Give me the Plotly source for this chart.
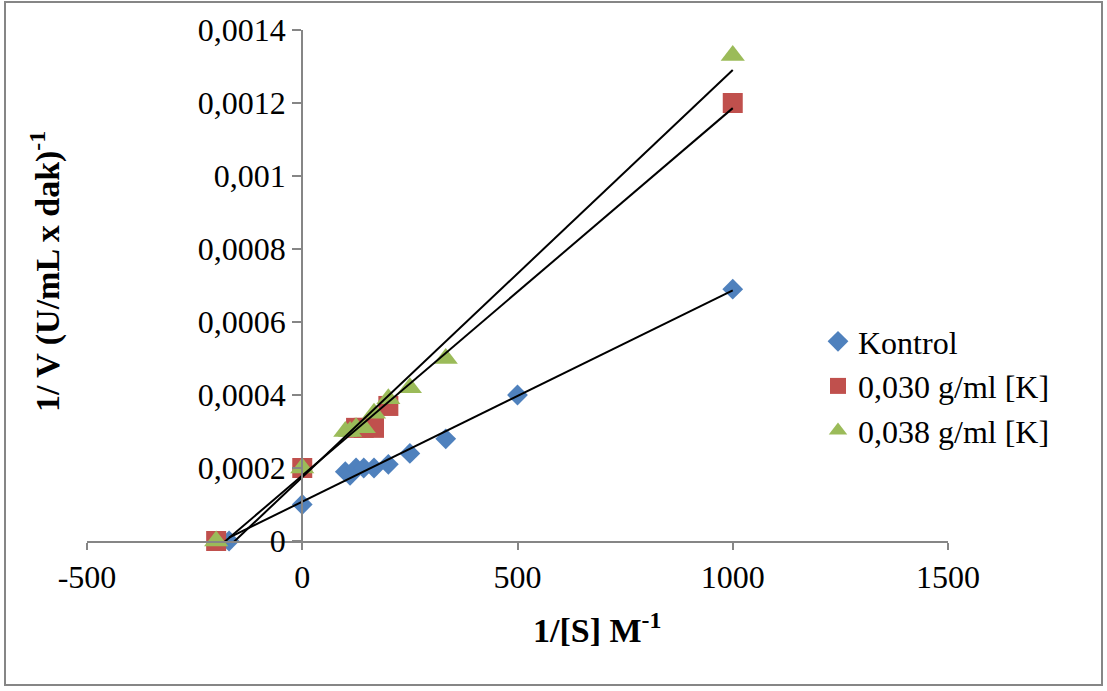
import numpy as np
import plotly.graph_objects as go

# Lineweaver-Burk data: 1/[S] (M^-1) and 1/V
x_kontrol = [-170, 0, 100, 111.1, 125, 142.9, 166.7, 200, 250, 333.3, 500, 1000]
y_kontrol = [0, 0.0001, 0.00019, 0.00018, 0.0002, 0.0002, 0.0002, 0.00021, 0.00024, 0.00028, 0.0004, 0.00069]

x_k030 = [-200, 0, 125, 142.9, 166.7, 200, 1000]
y_k030 = [0, 0.0002, 0.00031, 0.00031, 0.00031, 0.00037, 0.0012]

x_k038 = [-200, 0, 100, 111.1, 125, 142.9, 166.7, 200, 250, 333.3, 1000]
y_k038 = [0, 0.0002, 0.0003, 0.0003, 0.00031, 0.00031, 0.00035, 0.00039, 0.00042, 0.0005, 0.00133]

series_names = ["Kontrol", "0,030 g/ml [K]", "0,038 g/ml [K]"]
series_colors = ["#4F81BD", "#C0504D", "#9BBB59"]
series_symbols = ["diamond", "square", "triangle-up"]
series_sizes = [16, 20, 21]

y_tick_vals = [0, 0.0002, 0.0004, 0.0006, 0.0008, 0.001, 0.0012, 0.0014]
y_tick_text = ["0", "0,0002", "0,0004", "0,0006", "0,0008", "0,001", "0,0012", "0,0014"]
x_tick_vals = [-500, 0, 500, 1000, 1500]
x_tick_text = ["-500", "0", "500", "1000", "1500"]

x_range = [-500, 1500]
y_range = [0, 0.0014]

FONT = "Liberation Serif"
AXIS_GRAY = "#868686"
TICK_SIZE = 32
TITLE_SIZE = 34

fig = go.Figure()

data = [(x_kontrol, y_kontrol), (x_k030, y_k030), (x_k038, y_k038)]

for (xs, ys), name, col, sym, sz in zip(data, series_names, series_colors, series_symbols, series_sizes):
    fig.add_trace(go.Scatter(
        x=xs, y=ys, mode="markers", name=name,
        marker=dict(symbol=sym, size=sz, color=col, line=dict(width=0)),
        cliponaxis=False,
    ))

# Linear trendlines (least squares) spanning each series' x-range
for xs, ys in data:
    slope, intercept = np.polyfit(xs, ys, 1)
    xl = np.array([min(xs), max(xs)])
    fig.add_trace(go.Scatter(
        x=xl, y=slope * xl + intercept, mode="lines",
        line=dict(color="black", width=2), showlegend=False, hoverinfo="skip",
    ))

ml, mr, mt, mb = 87, 159, 30, 150
W, H = 1107, 691
PW, PH = W - ml - mr, H - mt - mb


def px_x(p):
    return (p - ml) / PW


def px_y(p):
    return (H - mb - p) / PH


# paper position of x = 0 along the x domain, where the value axis crosses
y_axis_pos = (0 - x_range[0]) / (x_range[1] - x_range[0])

fig.update_layout(
    width=W, height=H,
    margin=dict(l=ml, r=mr, t=mt, b=mb, autoexpand=False),
    paper_bgcolor="white", plot_bgcolor="white",
    font=dict(family=FONT, size=TICK_SIZE, color="black"),
    showlegend=True,
    legend=dict(
        x=px_x(818), y=px_y(386), xanchor="left", yanchor="middle",
        font=dict(family=FONT, size=TICK_SIZE, color="black"),
        bgcolor="rgba(0,0,0,0)", itemwidth=30, tracegroupgap=0,
    ),
    xaxis=dict(
        range=x_range, tickvals=x_tick_vals, ticktext=x_tick_text,
        showgrid=False, zeroline=False,
        showline=True, linecolor=AXIS_GRAY, linewidth=2,
        ticks="outside", ticklen=7, tickcolor=AXIS_GRAY, tickwidth=2,
        tickfont=dict(family=FONT, size=TICK_SIZE),
    ),
    yaxis=dict(
        range=y_range, tickvals=y_tick_vals, ticktext=y_tick_text,
        showgrid=False, zeroline=False,
        anchor="free", position=y_axis_pos,
        showline=True, linecolor=AXIS_GRAY, linewidth=2,
        ticks="outside", ticklen=9, tickcolor=AXIS_GRAY, tickwidth=2,
        tickfont=dict(family=FONT, size=TICK_SIZE),
    ),
    annotations=[
        dict(
            text="<b>1/ V (U/mL x dak)<sup>-1</sup></b>",
            xref="paper", yref="paper", x=px_x(45), y=px_y(272),
            xanchor="center", yanchor="middle", textangle=-90, showarrow=False,
            font=dict(family=FONT, size=TITLE_SIZE, color="black"),
        ),
        dict(
            text="<b>1/[S] M<sup>-1</sup></b>",
            xref="paper", yref="paper", x=px_x(597), y=px_y(628),
            xanchor="center", yanchor="middle", showarrow=False,
            font=dict(family=FONT, size=TITLE_SIZE, color="black"),
        ),
    ],
    shapes=[dict(
        type="rect", xref="paper", yref="paper",
        x0=px_x(5), x1=px_x(1102), y0=px_y(685), y1=px_y(2),
        line=dict(color=AXIS_GRAY, width=2), fillcolor="rgba(0,0,0,0)", layer="below",
    )],
)

fig.write_html("out.html")
